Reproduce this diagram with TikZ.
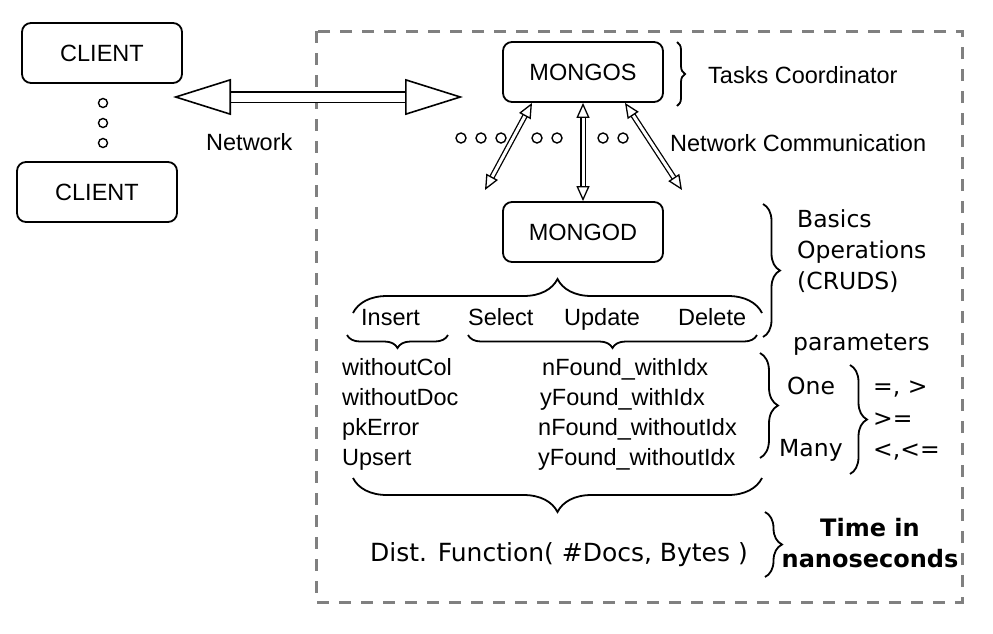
\documentclass[tikz,border=0pt]{standalone}
\usepackage{fontspec}
\setmainfont{Liberation Sans}
\newfontfamily\verd{DejaVu Sans}
\usetikzlibrary{arrows.meta,decorations.pathreplacing}
\begin{document}
\begin{tikzpicture}[x=1pt,y=-1pt,
        box/.style = {draw, rounded corners=9pt, line width=1.8pt, minimum width=160pt, minimum height=60pt, font=\fontsize{23.5}{28}\selectfont},
        txt/.style = {inner sep=0pt, anchor=base west, font=\fontsize{23.5}{28}\selectfont},
        vtxt/.style = {inner sep=0pt, anchor=base west, font=\verd\fontsize{23.5}{28}\selectfont},
        dot/.style = {draw, circle, line width=1.4pt, minimum size=9pt, inner sep=0pt},
        fat/.style = {double, line width=1.6pt, double distance=9pt, {Triangle[open,length=58pt,width=36pt]}-{Triangle[open,length=58pt,width=36pt]}},
        link/.style = {double, line width=1.3pt, double distance=3pt, {Triangle[open,length=15pt,width=13pt]}-{Triangle[open,length=15pt,width=13pt]}},
        brace/.style = {decorate, decoration={brace, amplitude=#1}, line width=1.8pt}]
        \useasboundingbox (0,0) rectangle (993,633);
        % cluster
        \draw[gray, line width=3pt, dash pattern=on 12pt off 10pt] (316,31) rectangle (962,602);
        % clients
        \node[box] (c1) at (102,53) {CLIENT};
        \node[box] (c2) at (97,192) {CLIENT};
        \node[dot] (d1) at (103,103) {};
        \node[dot] (d2) at (103,123) {};
        \node[dot] (d3) at (103,143) {};
        \node[txt] (net) at (206,150) {Network};
        \coordinate (netl) at (173,97);
        \coordinate (netr) at (463,97);
        \draw[fat] (netl) -- (netr);
        % servers
        \node[box] (mongos) at (583,72) {MONGOS};
        \node[box] (mongod) at (583,232) {MONGOD};
        \coordinate (dl) at (485,190);
        \coordinate (dr) at (682,190);
        \draw[link] ([xshift=-51pt]mongos.south) -- (dl);
        \draw[link] (mongos) -- (mongod);
        \draw[link] ([xshift=42pt]mongos.south) -- (dr);
        \node[dot, minimum size=10pt] (s1) at (461,138) {};
        \node[dot, minimum size=10pt] (s2) at (481,138) {};
        \node[dot, minimum size=10pt] (s3) at (501,138) {};
        \node[dot, minimum size=10pt] (s4) at (537,138) {};
        \node[dot, minimum size=10pt] (s5) at (557,138) {};
        \node[dot, minimum size=10pt] (s6) at (603,138) {};
        \node[dot, minimum size=10pt] (s7) at (623,138) {};
        \node[txt] (comm) at (670,151) {Network Communication};
        \draw[brace=8pt] (677,42) -- (677,106);
        \node[txt] (coord) at (708,83) {Tasks Coordinator};
        % operations
        \draw[brace=34pt] (353,313) -- (762,313);
        \node[txt] (ins) at (361,325) {Insert};
        \node[txt] (sel) at (468,325) {Select};
        \node[txt] (upd) at (564,325) {Update};
        \node[txt] (del) at (678,325) {Delete};
        \draw[brace=13pt] (448,335) -- (347,335);
        \draw[brace=13pt] (757,335) -- (468,335);
        \draw[brace=17pt] (763,204) -- (763,337);
        \node[vtxt] (crud1) at (797,227) {Basics};
        \node[vtxt] (crud2) at (797,258) {Operations};
        \node[vtxt] (crud3) at (797,289) {(CRUDS)};
        % cases
        \node[txt] (a1) at (342,375) {withoutCol};
        \node[txt] (a2) at (342,405) {withoutDoc};
        \node[txt] (a3) at (342,435) {pkError};
        \node[txt] (a4) at (342,465) {Upsert};
        \node[txt] (b1) at (542,375) {nFound\_withIdx};
        \node[txt] (b2) at (540,405) {yFound\_withIdx};
        \node[txt] (b3) at (538,435) {nFound\_withoutIdx};
        \node[txt] (b4) at (538,465) {yFound\_withoutIdx};
        \draw[brace=18pt] (760,353) -- (760,458);
        \node[vtxt] (par) at (793,350) {parameters};
        \node[vtxt] (one) at (787,394) {One};
        \node[vtxt] (many) at (779,456) {Many};
        \draw[brace=17pt] (850,365) -- (850,474);
        \node[vtxt] (o1) at (873,394) {=, >};
        \node[vtxt] (o2) at (873,426) {>=};
        \node[vtxt] (o3) at (873,457) {<,<=};
        % cost
        \draw[brace=34pt] (762,478) -- (353,478);
        \node[vtxt, font=\verd\fontsize{25}{30}\selectfont] (dist) at (370,561) {Dist. Function( \#Docs, Bytes )};
        \draw[brace=17pt] (765,512) -- (765,577);
        \node[inner sep=0pt, align=center, font=\verd\bfseries\fontsize{24}{31}\selectfont] (time) at (870,543) {Time in\\nanoseconds};
\end{tikzpicture}
\end{document}
